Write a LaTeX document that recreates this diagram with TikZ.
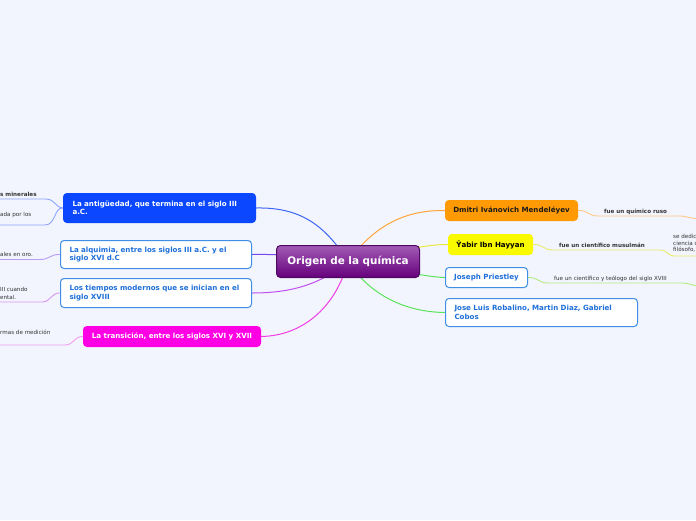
\documentclass[tikz,border=0pt]{standalone}
\usepackage{fontspec}
\setmainfont{DejaVu Sans}
\definecolor{bgc}{HTML}{F2F5FE}
\definecolor{c1}{HTML}{0A47FF}
\definecolor{c1l}{HTML}{3C66F6}
\definecolor{c1s}{HTML}{8CA5FA}
\definecolor{wb}{HTML}{3F8FE6}
\definecolor{wt}{HTML}{1E6FD9}
\definecolor{c2l}{HTML}{7B47EE}
\definecolor{c2s}{HTML}{B79DF2}
\definecolor{c3l}{HTML}{C04EF0}
\definecolor{c3s}{HTML}{D995F2}
\definecolor{c4}{HTML}{FF00E4}
\definecolor{c4l}{HTML}{F03CE4}
\definecolor{c4s}{HTML}{F19CEE}
\definecolor{c5}{HTML}{FF9A05}
\definecolor{c5l}{HTML}{FFA53A}
\definecolor{c5s}{HTML}{FFC98A}
\definecolor{c6}{HTML}{F9F900}
\definecolor{c6l}{HTML}{EAEA3A}
\definecolor{c6s}{HTML}{EBEB6A}
\definecolor{gl}{HTML}{5BE35B}
\definecolor{gs}{HTML}{B5EC80}
\definecolor{cpt}{HTML}{A25BB5}
\definecolor{cpb}{HTML}{66007C}
\definecolor{cpd}{HTML}{4C0A60}
\definecolor{tx}{HTML}{333333}
\definecolor{dk}{HTML}{1A1A1A}
\pgfdeclarelayer{back}
\pgfsetlayers{back,main}
\begin{document}
\begin{tikzpicture}[x=1pt,y=-1pt,
  topic/.style={rounded corners=3.5pt, line width=1pt, anchor=north west,
    inner xsep=9pt, inner ysep=0pt, font=\fontsize{7.1}{8.4}\selectfont\bfseries},
  wide/.style={topic, align=left},
  single/.style={topic, align=center, inner xsep=7pt},
  sub/.style={font=\fontsize{5.6}{6.6}\selectfont, text=tx, inner sep=0pt, anchor=base west},
  subb/.style={sub, font=\fontsize{5.6}{6.6}\selectfont\bfseries},
  mainline/.style={line width=1pt, line cap=round},
  subline/.style={line width=0.9pt, line cap=round}]
\useasboundingbox (0,0) rectangle (696,520);
\begin{pgfonlayer}{back}
\fill[bgc] (0,0) rectangle (696,520);
\end{pgfonlayer}
\clip (0,0) rectangle (696,520);

% central
\node[topic, top color=cpt, bottom color=cpb, draw=cpd, text=white,
  minimum width=143pt, minimum height=32pt, align=center,
  font=\fontsize{10.4}{12}\selectfont\bfseries, rounded corners=4pt] (c) at (276,245) {Origen de la química};

% left topics
\node[wide, fill=c1, draw=c1, text=white, text width=174pt, minimum height=29pt] (a1) at (63,193) {La antigüedad, que termina en el siglo III\\a.C.};
\node[wide, fill=white, draw=wb, text=wt, text width=173pt, minimum height=28pt] (a2) at (60,240) {La alquimia, entre los siglos III a.C. y el\\siglo XVI d.C};
\node[wide, fill=white, draw=wb, text=wt, text width=173pt, minimum height=29pt] (a3) at (60,278) {Los tiempos modernos que se inician en el\\siglo XVIII};
\node[single, fill=c4, draw=c4, text=white, minimum width=177pt, minimum height=20pt] (a4) at (83,326) {La transición, entre los siglos XVI y XVII};

% right topics
\node[single, fill=c5, draw=c5, text=dk, minimum width=132pt, minimum height=20pt] (b5) at (445,200) {Dmitri Ivánovich Mendeléyev};
\node[single, fill=c6, draw=c6, text=black, minimum width=84pt, minimum height=20pt] (b6) at (448,234) {Ŷabir Ibn Hayyan};
\node[single, fill=white, draw=wb, text=wt, minimum width=82pt, minimum height=20pt] (b7) at (445,267) {Joseph Priestley};
\node[wide, fill=white, draw=wb, text=wt, text width=174pt, minimum height=28pt] (b8) at (445,298) {Jose Luis Robalino, Martin Diaz, Gabriel\\Cobos};

% sub texts
\node[subb] (t1a) at (0,196.5) {s minerales};
\node[sub] (t1b) at (0,216) {ada por los};
\node[sub] (t2) at (0,256) {ales en oro.};
\node[sub, anchor=north west, align=left, font=\fontsize{5.6}{7.5}\selectfont] (t3) at (0,287.2) {III cuando\\ental.};
\node[sub] (t4) at (0,334.5) {rmas de medición};
\node[subb] (t5) at (604,213) {fue un químico ruso};
\node[subb] (t6) at (559,247) {fue un científico musulmán};
\node[sub, anchor=north west, align=left, font=\fontsize{5.6}{6.5}\selectfont] (t6b) at (673,234.5) {se dedic\\ciencia c\\filósofo,};
\node[sub] (t7) at (554,280) {fue un científico y teólogo del siglo XVIII};

% coordinates for underline ends
\coordinate (u1a) at (45,199);  \coordinate (e1a) at (-5,199);
\coordinate (u1b) at (45,225);  \coordinate (e1b) at (-5,225);
\coordinate (u2) at (40,259.5); \coordinate (e2) at (-5,259.5);
\coordinate (u3) at (42,302);   \coordinate (e3) at (-5,302);
\coordinate (u4) at (65,345);   \coordinate (e4) at (-5,345);
\coordinate (u5a) at (598,216); \coordinate (u5b) at (680,216); \coordinate (e5) at (705,219);
\coordinate (u6a) at (553,250); \coordinate (u6b) at (660,250); \coordinate (u6c) at (675,256); \coordinate (e6) at (705,256);
\coordinate (u7a) at (548,283); \coordinate (u7b) at (682,283); \coordinate (e7) at (705,286);

\begin{pgfonlayer}{back}
% main connectors
\draw[mainline, c1l] (c.center) .. controls (325,225) and (300,207) .. (a1.east);
\draw[mainline, c2l] (c.center) .. controls (300,256) and (280,254) .. (a2.east);
\draw[mainline, c3l] (c.center) .. controls (320,285) and (290,293) .. (a3.east);
\draw[mainline, c4l] (c.center) .. controls (335,310) and (300,336) .. (a4.east);
\draw[mainline, c5l] (c.center) .. controls (375,225) and (405,210) .. (b5.west);
\draw[mainline, c6l] (c.center) .. controls (400,252) and (425,244) .. (b6.west);
\draw[mainline, gl] (c.center) .. controls (400,270) and (425,277) .. (b7.west);
\draw[mainline, gl] (c.center) .. controls (370,295) and (405,312) .. (b8.west);
% sub connectors
\draw[subline, c1s] (a1.west) .. controls (54,207) and (56,199) .. (u1a) -- (e1a);
\draw[subline, c1s] (a1.west) .. controls (54,207) and (56,225) .. (u1b) -- (e1b);
\draw[subline, c2s] (a2.west) .. controls (50,254) and (50,259.5) .. (u2) -- (e2);
\draw[subline, c3s] (a3.west) .. controls (51,292.5) and (51,302) .. (u3) -- (e3);
\draw[subline, c4s] (a4.west) .. controls (74,336) and (74,345) .. (u4) -- (e4);
\draw[subline, c5s] (b5.east) .. controls (588,210) and (588,216) .. (u5a) -- (u5b) .. controls (688,216) and (688,219) .. (e5);
\draw[subline, c6s] (b6.east) .. controls (543,244) and (543,250) .. (u6a) -- (u6b) .. controls (668,250) and (667,256) .. (u6c) -- (e6);
\draw[subline, gs] (b7.east) .. controls (538,277) and (538,283) .. (u7a) -- (u7b) .. controls (690,283) and (690,286) .. (e7);
\end{pgfonlayer}
\end{tikzpicture}
\end{document}
